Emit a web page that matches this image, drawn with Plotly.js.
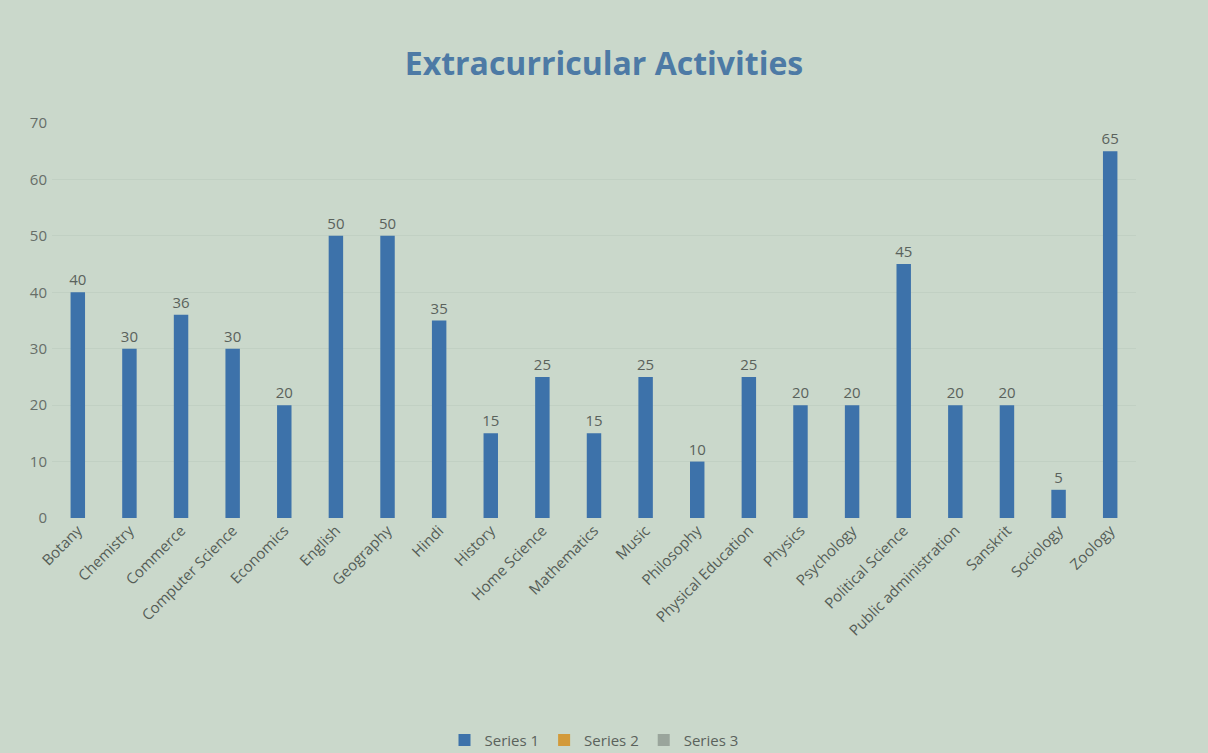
<!DOCTYPE html>
<html>
<head>
<meta charset="utf-8">
<script src="https://cdn.plot.ly/plotly-3.0.1.min.js"></script>
<style>
html,body{margin:0;padding:0;background:#cad8cb;}
#chart{width:1208px;height:753px;}
</style>
</head>
<body>
<div id="chart"></div>
<script>
const categories = ["Botany","Chemistry","Commerce","Computer Science","Economics","English","Geography","Hindi","History","Home Science","Mathematics","Music","Philosophy","Physical Education","Physics","Psychology","Political Science","Public administration","Sanskrit","Sociology","Zoology"];
const series1 = [40,30,36,30,20,50,50,35,15,25,15,25,10,25,20,20,45,20,20,5,65];
const series2 = categories.map(() => null);
const series3 = categories.map(() => null);
const yTicks = [0,10,20,30,40,50,60,70];

const traces = [
  {type:"bar", name:"Series 1", x:categories, y:series1, width:0.28,
   marker:{color:"#3d72aa"}, text:series1.map(String), textposition:"outside",
   constraintext:"none", cliponaxis:false,
   textfont:{size:15,color:"#5a625c",family:"Open Sans, sans-serif"}},
  {type:"bar", name:"Series 2", x:categories, y:series2, marker:{color:"#d39a3a"}},
  {type:"bar", name:"Series 3", x:categories, y:series3, marker:{color:"#9aa59c"}}
];

const layout = {
  width:1208, height:753,
  paper_bgcolor:"#cad8cb", plot_bgcolor:"#cad8cb",
  font:{family:"Open Sans, sans-serif", color:"#5a625c"},
  title:{text:"<b>Extracurricular Activities</b>", x:0.5, xanchor:"center", y:0.915, yanchor:"middle",
         font:{size:32, color:"#4d7aa5", family:"Open Sans, sans-serif"}},
  margin:{l:52, r:72, t:123, b:235},
  barmode:"overlay",
  bargap:0.2,
  xaxis:{tickangle:-45, tickfont:{size:15,color:"#555d57"}, showgrid:false, zeroline:false,
         showline:false, ticks:"", automargin:false},
  yaxis:{range:[0,70], tickvals:yTicks, ticktext:yTicks.map(String), tickfont:{size:15,color:"#666e68"},
         showgrid:true, gridcolor:"#c1d0c3", zeroline:false, showline:false, ticks:"", ticklabelstandoff:4,
         automargin:false},
  showlegend:true,
  legend:{orientation:"h", x:0.5, xanchor:"center", yref:"container", y:0.017, yanchor:"middle",
          itemwidth:30, font:{size:15,color:"#5a625c"}, bgcolor:"rgba(0,0,0,0)"}
};

Plotly.newPlot("chart", traces, layout, {displayModeBar:false, staticPlot:true});
</script>
</body>
</html>
